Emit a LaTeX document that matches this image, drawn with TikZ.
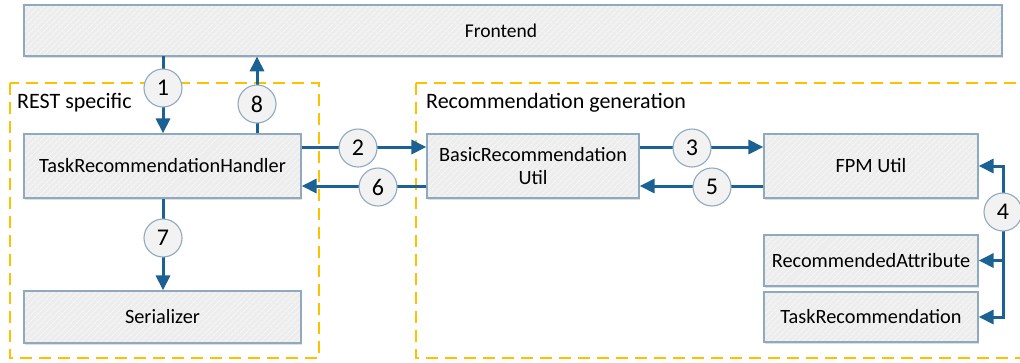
\documentclass[tikz,border=0pt]{standalone}
\usepackage{fontspec}
\setmainfont{Carlito}
\usetikzlibrary{arrows.meta,shadows,patterns.meta}

\definecolor{flowblue}{HTML}{1B6193}
\definecolor{boxedge}{HTML}{8FA9BE}
\definecolor{boxfill}{HTML}{EDEDED}
\definecolor{dotfill}{HTML}{F2F2F2}
\definecolor{zoneorange}{HTML}{FFC000}

\tikzset{
  component/.style={draw=boxedge, line width=1.2pt, inner sep=0pt,
    preaction={fill=boxfill, drop shadow={shadow xshift=1pt, shadow yshift=-2pt, opacity=0.25}},
    pattern={Lines[angle=45,distance=4pt,line width=0.7pt]}, pattern color=white!60!boxfill,
    align=center, font=\fontsize{20.3}{23}\selectfont},
  stepnum/.style={circle, draw=boxedge, line width=1.1pt, fill=dotfill,
    minimum size=38pt, inner sep=0pt, font=\fontsize{24}{26}\selectfont},
  flow/.style={draw=flowblue, line width=3pt, -{Triangle[length=15pt,width=14pt]}},
  wire/.style={draw=flowblue, line width=3pt, line cap=rect},
  zone/.style={draw=zoneorange, line width=1.8pt, dash pattern=on 12pt off 7pt},
  zonelabel/.style={anchor=west, font=\fontsize{22}{24}\selectfont, inner sep=0pt},
}

\begin{document}
\begin{tikzpicture}[x=1pt, y=-1pt]
\useasboundingbox (0,0) rectangle (1020,362);
\clip (0,0) rectangle (1020,362);

% grouping zones
\draw[zone] (10,83) rectangle (319,358);
\draw[zone] (416,83) rectangle (1030,358);
\node[zonelabel] (restlbl) at (17,103) {REST specific};
\node[zonelabel] (genlbl) at (426,103) {Recommendation generation};

% components
\node[component, minimum width=978pt, minimum height=51pt,
      font=\fontsize{19.5}{22}\selectfont] (frontend) at (513,30.5) {\hspace*{-24pt}Frontend};
\node[component, minimum width=277pt, minimum height=64pt] (handler) at (162.5,166) {TaskRecommendationHandler};
\node[component, minimum width=277pt, minimum height=52pt] (serializer) at (162.5,317) {Serializer};
\node[component, minimum width=212pt, minimum height=64pt] (basic) at (533,166) {BasicRecommendation\\Util};
\node[component, minimum width=214pt, minimum height=64pt] (fpm) at (871,166) {FPM Util};
\node[component, minimum width=214pt, minimum height=51pt] (recattr) at (871,260.5) {RecommendedAttribute};
\node[component, minimum width=214pt, minimum height=50pt] (taskrec) at (871,317) {TaskRecommendation};

% reference lines for connectors
\coordinate (xa) at (163,0);
\coordinate (xb) at (257,0);
\coordinate (ya) at (0,147);
\coordinate (yb) at (0,186);
\coordinate (xc) at (1003,0);

% connectors
\draw[flow] (frontend.south -| xa) -- (handler.north -| xa);
\draw[flow] (handler.north -| xb) -- (frontend.south -| xb);
\draw[flow] (handler.east |- ya) -- (basic.west |- ya);
\draw[flow] (basic.west |- yb) -- (handler.east |- yb);
\draw[flow] (basic.east |- ya) -- (fpm.west |- ya);
\draw[flow] (fpm.west |- yb) -- (basic.east |- yb);
\draw[flow] (handler.south -| xa) -- (serializer.north -| xa);
\draw[wire] (fpm.east -| xc) -- (taskrec.east -| xc);
\draw[flow] (fpm.east -| xc) -- (fpm.east);
\draw[flow] (recattr.east -| xc) -- (recattr.east);
\draw[flow] (taskrec.east -| xc) -- (taskrec.east);

% step numbers
\node[stepnum] (n1) at (163,88) {1};
\node[stepnum] (n2) at (358,148) {2};
\node[stepnum] (n3) at (692,148) {3};
\node[stepnum] (n4) at (1003,212) {4};
\node[stepnum] (n5) at (712,187) {5};
\node[stepnum] (n6) at (378,187) {6};
\node[stepnum] (n7) at (163,238) {7};
\node[stepnum] (n8) at (257,104) {8};
\end{tikzpicture}
\end{document}
